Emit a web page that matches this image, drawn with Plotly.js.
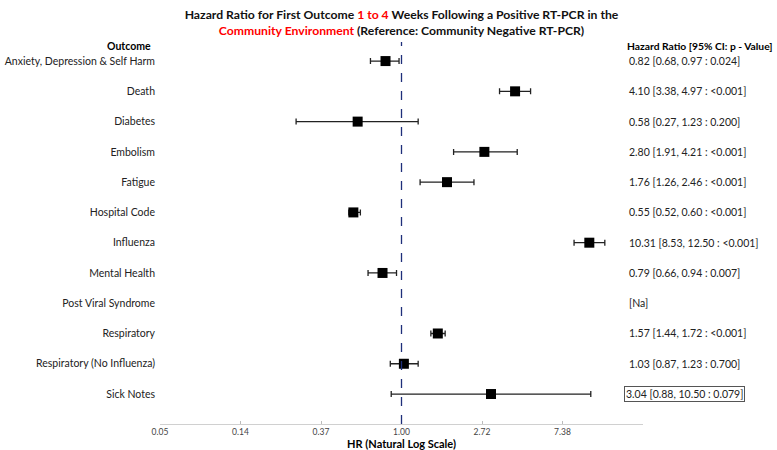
<!DOCTYPE html>
<html>
<head>
<meta charset="utf-8">
<script src="https://cdn.plot.ly/plotly-3.0.1.min.js"></script>
<style>html,body{margin:0;padding:0;background:#fff;}#chart{width:777px;height:450px;}</style>
</head>
<body>
<div id="chart"></div>
<script>
const outcomes = ["Anxiety, Depression & Self Harm","Death","Diabetes","Embolism","Fatigue","Hospital Code","Influenza","Mental Health","Post Viral Syndrome","Respiratory","Respiratory (No Influenza)","Sick Notes"];
const hr =    [0.82, 4.10, 0.58, 2.80, 1.76, 0.55, 10.31, 0.79, null, 1.57, 1.03, 3.04];
const lower = [0.68, 3.38, 0.27, 1.91, 1.26, 0.52, 8.53, 0.66, null, 1.44, 0.87, 0.88];
const upper = [0.97, 4.97, 1.23, 4.21, 2.46, 0.60, 12.50, 0.94, null, 1.72, 1.23, 10.50];
const pvals = ["0.024","<0.001","0.200","<0.001","<0.001","<0.001","<0.001","0.007",null,"<0.001","0.700","0.079"];
const tickVals = [Math.exp(-3),Math.exp(-2),Math.exp(-1),1,Math.exp(1),Math.exp(2)];
const tickLabels = ["0.05","0.14","0.37","1.00","2.72","7.38"];

const FONT = "Lato, 'Open Sans', sans-serif";
const idx = outcomes.map((_, i) => i);

const trace = {
  type: "scatter", mode: "markers",
  x: hr, y: idx,
  marker: {symbol: "square", size: 10, color: "#000"},
  error_x: {
    type: "data", symmetric: false,
    array: hr.map((v, i) => v == null ? null : upper[i] - v),
    arrayminus: hr.map((v, i) => v == null ? null : v - lower[i]),
    color: "#222", thickness: 1.3, width: 3
  },
  hoverinfo: "skip", showlegend: false
};

const fmt = v => v.toFixed(2);
const annotations = [];
outcomes.forEach((o, i) => {
  const txt = hr[i] == null ? "[Na]" :
    fmt(hr[i]) + " [" + fmt(lower[i]) + ", " + fmt(upper[i]) + " : " + pvals[i] + "]";
  const a = {xref: "paper", yref: "y", x: 1.0, xshift: -16, y: i, text: txt,
    showarrow: false, xanchor: "left", yanchor: "middle",
    font: {family: FONT, size: 10.5, color: "#222"}};
  if (o === "Sick Notes") { a.bordercolor = "#555"; a.borderwidth = 1; a.borderpad = 1; a.xshift = -19; }
  annotations.push(a);
});
annotations.push({xref: "paper", yref: "paper", x: 1.0, xshift: -18, y: 1.0, yshift: -4,
  text: "<b>Hazard Ratio [95% CI: p - Value]</b>", showarrow: false, xanchor: "left", yanchor: "middle",
  font: {family: FONT, size: 10.3, color: "#000"}});
annotations.push({xref: "paper", yref: "paper", x: 0, xshift: -7, y: 1.0, yshift: -4,
  text: "<b>Outcome</b>", showarrow: false, xanchor: "right", yanchor: "middle",
  font: {family: FONT, size: 10.5, color: "#000"}});

const layout = {
  width: 777, height: 450,
  margin: {l: 160, r: 134, t: 42, b: 26},
  paper_bgcolor: "#fff", plot_bgcolor: "#fff",
  font: {family: FONT},
  title: {
    text: "<b>Hazard Ratio for First Outcome <span style='color:#ff0000'>1 to 4</span> Weeks Following a Positive RT-PCR in the<br><span style='color:#ff0000'>Community Environment</span> (Reference: Community Negative RT-PCR)</b>",
    font: {family: FONT, size: 12.2, color: "#111"},
    x: 0.5, xref: "paper", xanchor: "center", yref: "container", y: 0.958, yanchor: "middle"
  },
  xaxis: {
    type: "log",
    range: [-3 / Math.LN10, 3 / Math.LN10],
    tickvals: tickVals, ticktext: tickLabels,
    ticks: "inside", ticklen: 3, tickcolor: "#bbb",
    showline: true, linecolor: "#d0d0d0", linewidth: 1,
    showgrid: false, zeroline: false,
    tickfont: {family: FONT, size: 8.5, color: "#444"},
    title: {text: "<b>HR (Natural Log Scale)</b>", standoff: 0, font: {family: FONT, size: 11, color: "#000"}},
    automargin: false, fixedrange: true
  },
  yaxis: {
    range: [11.99, -0.63],
    tickvals: idx, ticktext: outcomes,
    showline: false, showgrid: false, zeroline: false, ticks: "",
    ticklabelstandoff: 4,
    tickfont: {family: FONT, size: 10.5, color: "#222"},
    automargin: false, fixedrange: true
  },
  shapes: [{type: "line", xref: "x", yref: "paper", x0: 1, x1: 1, y0: 0, y1: 1,
    line: {color: "#1f2f7a", width: 1.3, dash: "dash"}}],
  annotations: annotations
};

Plotly.newPlot("chart", [trace], layout, {displayModeBar: false, staticPlot: true});
</script>
</body>
</html>
